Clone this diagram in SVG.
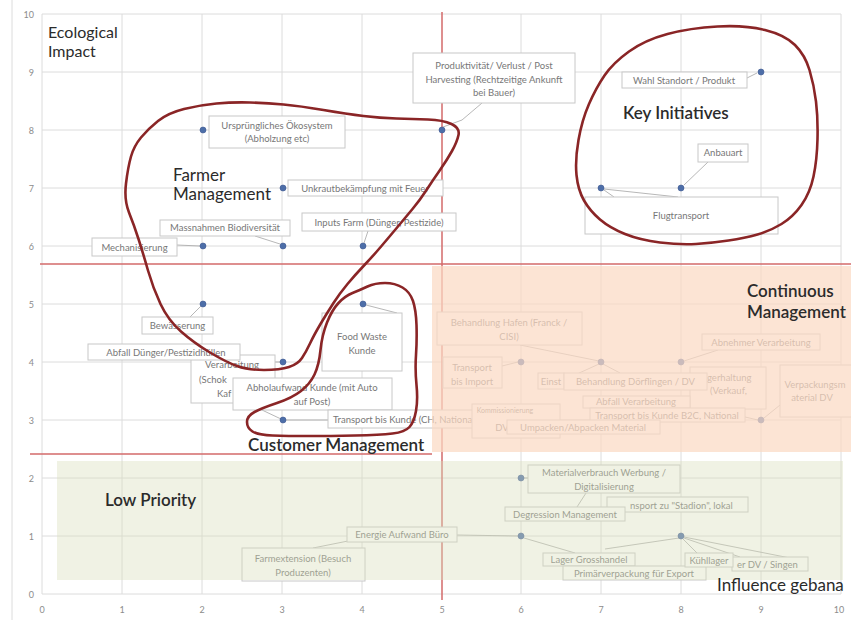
<svg xmlns="http://www.w3.org/2000/svg" width="851" height="620" viewBox="0 0 851 620">
<style>
.grid{stroke:#dcdcdc;stroke-width:1;fill:none}
.tick{font-family:Lato,'Liberation Sans',sans-serif;font-size:9px;fill:#8c8c8c}
.box{fill:#fff;stroke:#c8c8c8;stroke-width:1}
.lbl{font-family:Lato,'Liberation Sans',sans-serif;font-size:9.5px;fill:#777;text-anchor:middle}
.lbs{font-family:Lato,'Liberation Sans',sans-serif;font-size:9.5px;fill:#777}
.lead{stroke:#a4a4a4;stroke-width:0.8;fill:none}
.pt{fill:#4d6ea8;stroke:#3a5590;stroke-width:0.6}
.hand{fill:none;stroke:#8a2526;stroke-width:2.6;stroke-linejoin:round;stroke-linecap:round}
.redl{stroke:#d36a6a;stroke-width:1.5}
.head{font-family:Lato,'Liberation Sans',sans-serif;font-size:17px;fill:#2b2b2b}
.bold{font-weight:600}
</style>
<rect x="0" y="0" width="851" height="620" fill="#fff"/>
<line x1="12" y1="0" x2="12" y2="620" class="grid"/>
<g id="grid">
<line class="grid" x1="42" y1="14" x2="841" y2="14"/>
<line class="grid" x1="42" y1="72" x2="841" y2="72"/>
<line class="grid" x1="42" y1="130" x2="841" y2="130"/>
<line class="grid" x1="42" y1="188" x2="841" y2="188"/>
<line class="grid" x1="42" y1="246" x2="841" y2="246"/>
<line class="grid" x1="42" y1="304" x2="841" y2="304"/>
<line class="grid" x1="42" y1="362" x2="841" y2="362"/>
<line class="grid" x1="42" y1="420" x2="841" y2="420"/>
<line class="grid" x1="42" y1="478" x2="841" y2="478"/>
<line class="grid" x1="42" y1="536" x2="841" y2="536"/>
<line class="grid" x1="42" y1="594" x2="841" y2="594"/>
<line class="grid" x1="42" y1="14" x2="42" y2="594"/>
<line class="grid" x1="122" y1="14" x2="122" y2="594"/>
<line class="grid" x1="202" y1="14" x2="202" y2="594"/>
<line class="grid" x1="282" y1="14" x2="282" y2="594"/>
<line class="grid" x1="362" y1="14" x2="362" y2="594"/>
<line class="grid" x1="521" y1="14" x2="521" y2="594"/>
<line class="grid" x1="601" y1="14" x2="601" y2="594"/>
<line class="grid" x1="681" y1="14" x2="681" y2="594"/>
<line class="grid" x1="761" y1="14" x2="761" y2="594"/>
<line class="grid" x1="841" y1="14" x2="841" y2="594"/>
</g>
<g id="axis-labels" class="tick">
<text x="34" y="18" text-anchor="end">10</text>
<text x="34" y="76" text-anchor="end">9</text>
<text x="34" y="134" text-anchor="end">8</text>
<text x="34" y="192" text-anchor="end">7</text>
<text x="34" y="250" text-anchor="end">6</text>
<text x="34" y="308" text-anchor="end">5</text>
<text x="34" y="366" text-anchor="end">4</text>
<text x="34" y="424" text-anchor="end">3</text>
<text x="34" y="482" text-anchor="end">2</text>
<text x="34" y="540" text-anchor="end">1</text>
<text x="34" y="598" text-anchor="end">0</text>
<g text-anchor="middle">
<text x="42" y="613">0</text>
<text x="122" y="613">1</text>
<text x="202" y="613">2</text>
<text x="282" y="613">3</text>
<text x="362" y="613">4</text>
<text x="442" y="613">5</text>
<text x="521" y="613">6</text>
<text x="601" y="613">7</text>
<text x="681" y="613">8</text>
<text x="761" y="613">9</text>
<text x="839" y="613">10</text>
</g>
</g>
<g id="dividers">
<line class="redl" x1="442" y1="12" x2="442" y2="600"/>
<line class="redl" x1="40" y1="264" x2="851" y2="264"/>
<line class="redl" x1="30" y1="454" x2="432" y2="454"/>
</g>
<g id="connectors" class="lead">
<polyline points="443,127 462,120 482,103"/>
<line x1="747" y1="78" x2="757" y2="73"/>
<line x1="684" y1="185" x2="708" y2="162"/>
<line x1="604" y1="189" x2="678" y2="197"/>
<line x1="604" y1="190" x2="614" y2="197"/>
<line x1="280" y1="244" x2="255" y2="236"/>
<line x1="364" y1="243" x2="368" y2="231"/>
<line x1="200" y1="246" x2="177" y2="245"/>
<line x1="201" y1="306" x2="190" y2="317"/>
<line x1="280" y1="362" x2="275" y2="362"/>
<line x1="262" y1="410" x2="281" y2="419"/>
<line x1="366" y1="305" x2="397" y2="313"/>
<line x1="286" y1="420" x2="328" y2="420"/>
<line x1="520" y1="345" x2="599" y2="361"/>
<line x1="502" y1="366" x2="518" y2="362"/>
<line x1="599" y1="364" x2="577" y2="374"/>
<line x1="603" y1="364" x2="620" y2="373"/>
<line x1="684" y1="361" x2="718" y2="350"/>
<line x1="745" y1="417" x2="758" y2="420"/>
<line x1="764" y1="418" x2="780" y2="405"/>
<line x1="524" y1="478" x2="528" y2="478"/>
<line x1="577" y1="507" x2="586" y2="493"/>
<line x1="457" y1="535" x2="518" y2="536"/>
<line x1="313" y1="548" x2="348" y2="541"/>
<line x1="524" y1="538" x2="575" y2="553"/>
<line x1="679" y1="538" x2="605" y2="549"/>
<line x1="683" y1="539" x2="697" y2="553"/>
<line x1="684" y1="538" x2="740" y2="557"/>
<line x1="684" y1="537" x2="790" y2="558"/>
</g>
<g id="n-ursprung"><rect class="box" x="209" y="116" width="136" height="32"/><text class="lbl" x="277" y="128.5">Ursprüngliches Ökosystem</text><text class="lbl" x="277" y="142">(Abholzung etc)</text><circle class="pt" cx="203" cy="130" r="3"/></g>
<g id="n-produktiv"><rect class="box" x="413" y="53" width="162" height="50"/><text class="lbl" x="494" y="69">Produktivität/ Verlust / Post</text><text class="lbl" x="494" y="82.5">Harvesting (Rechtzeitige Ankunft</text><text class="lbl" x="494" y="96">bei Bauer)</text><circle class="pt" cx="442" cy="130" r="3"/></g>
<g id="n-wahl"><rect class="box" x="622" y="72" width="125" height="16"/><text class="lbl" x="684" y="83.5">Wahl Standort / Produkt</text><circle class="pt" cx="761" cy="72" r="3"/></g>
<g id="n-anbau"><rect class="box" x="698" y="144" width="50" height="18"/><text class="lbl" x="723" y="156">Anbauart</text><circle class="pt" cx="681" cy="188" r="3"/></g>
<g id="n-flug"><rect class="box" x="585" y="197" width="193" height="37"/><text class="lbl" x="681" y="219">Flugtransport</text><circle class="pt" cx="601" cy="188" r="3"/></g>
<g id="n-unkraut"><rect class="box" x="288" y="180" width="155" height="16"/><text class="lbl" x="365" y="191.5">Unkrautbekämpfung mit Feuer</text><circle class="pt" cx="283" cy="188" r="3"/></g>
<g id="n-massnahmen"><rect class="box" x="160" y="220" width="130" height="16"/><text class="lbl" x="225" y="231">Massnahmen Biodiversität</text><circle class="pt" cx="283" cy="246" r="3"/></g>
<g id="n-inputs"><rect class="box" x="302" y="213" width="154" height="18"/><text class="lbl" x="379" y="225.5">Inputs Farm (Dünger, Pestizide)</text><circle class="pt" cx="363" cy="246" r="3"/></g>
<g id="n-mech"><rect class="box" x="92" y="238" width="85" height="18"/><text class="lbl" x="134.5" y="250.5">Mechanisierung</text><circle class="pt" cx="203" cy="246" r="3"/></g>
<g id="n-bewaesserung"><rect class="box" x="142" y="317" width="71" height="17"/><text class="lbl" x="177.5" y="329">Bewässerung</text><circle class="pt" cx="203" cy="304" r="3"/></g>
<g id="n-verarbeitung"><rect class="box" x="191" y="355" width="84" height="48"/><text class="lbl" x="232" y="368">Verarbeitung</text><text class="lbs" x="199" y="382.5">(Schok</text><text class="lbs" x="217" y="396.5">Kaf</text><circle class="pt" cx="283" cy="362" r="3"/></g>
<g id="n-abfall"><rect class="box" x="88" y="344" width="152" height="16"/><text class="lbl" x="166" y="355.5">Abfall Dünger/Pestizidhüllen</text></g>
<g id="n-abholaufwand"><rect class="box" x="233" y="378" width="159" height="32"/><text class="lbl" x="312" y="390.5">Abholaufwand Kunde (mit Auto</text><text class="lbl" x="312" y="405">auf Post)</text><circle class="pt" cx="283" cy="420" r="3"/></g>
<g id="n-foodwaste"><rect class="box" x="322" y="313" width="80" height="58"/><text class="lbl" x="362" y="340">Food Waste</text><text class="lbl" x="362" y="354">Kunde</text><circle class="pt" cx="363" cy="304" r="3"/></g>
<g id="n-transport-ch"><rect class="box" x="328" y="410" width="168" height="18"/><text class="lbs" x="333" y="423">Transport bis Kunde (CH, National</text></g>
<g id="n-hafen"><rect class="box" x="437" y="312" width="145" height="33"/><text class="lbl" x="509" y="326">Behandlung Hafen (Franck /</text><text class="lbl" x="509" y="340">CISI)</text></g>
<g id="n-import"><rect class="box" x="443" y="357" width="59" height="31"/><text class="lbl" x="472" y="370.5">Transport</text><text class="lbl" x="472" y="385">bis Import</text><circle class="pt" cx="521" cy="362" r="3"/></g>
<g id="n-einst"><rect class="box" x="538" y="373" width="26" height="16"/><text class="lbl" x="551" y="384.5">Einst</text></g>
<g id="n-lagerhaltung"><rect class="box" x="690" y="367" width="76" height="42"/><text class="lbs" x="707" y="381">gerhaltung</text><text class="lbs" x="710" y="394">(Verkauf,</text></g>
<g id="n-doerflingen"><rect class="box" x="564" y="373" width="143" height="17"/><text class="lbl" x="635.5" y="384.5">Behandlung Dörflingen / DV</text><circle class="pt" cx="601" cy="362" r="3"/></g>
<g id="n-abfall-verarbeitung"><rect class="box" x="583" y="396" width="107" height="12"/><text class="lbl" x="636" y="405">Abfall Verarbeitung</text></g>
<g id="n-komm"><rect class="box" x="472" y="404" width="88" height="34"/><text class="lbl" x="505" y="413" style="font-size:7px">Kommissionierung</text><text class="lbl" x="502" y="431">DV</text></g>
<g id="n-b2c"><rect class="box" x="590" y="408" width="155" height="14"/><text class="lbl" x="667" y="418.5">Transport bis Kunde B2C, National</text></g>
<g id="n-umpacken"><rect class="box" x="507" y="420" width="153" height="14"/><text class="lbl" x="583" y="430.5">Umpacken/Abpacken Material</text></g>
<g id="n-abnehmer"><rect class="box" x="702" y="334" width="118" height="16"/><text class="lbl" x="761" y="345.5">Abnehmer Verarbeitung</text><circle class="pt" cx="681" cy="362" r="3"/></g>
<g id="n-verpackung"><rect class="box" x="780" y="365" width="75" height="52"/><text class="lbl" x="815" y="388">Verpackungsm</text><text class="lbl" x="812" y="401">aterial DV</text><circle class="pt" cx="761" cy="420" r="3"/></g>
<g id="n-material"><rect class="box" x="528" y="465" width="152" height="28"/><text class="lbl" x="604" y="475.5">Materialverbrauch Werbung /</text><text class="lbl" x="604" y="490">Digitalisierung</text><circle class="pt" cx="521" cy="478" r="3"/></g>
<g id="n-stadion"><rect class="box" x="607" y="497" width="141" height="15"/><text class="lbs" x="630" y="508.5">nsport zu "Stadion", lokal</text></g>
<g id="n-degression"><rect class="box" x="505" y="507" width="120" height="14"/><text class="lbl" x="565" y="517.5">Degression Management</text></g>
<g id="n-energie"><rect class="box" x="347" y="527" width="110" height="15"/><text class="lbl" x="402" y="538">Energie Aufwand Büro</text><circle class="pt" cx="521" cy="536" r="3"/></g>
<g id="n-farmextension"><rect class="box" x="242" y="548" width="123" height="33"/><text class="lbl" x="303" y="562">Farmextension (Besuch</text><text class="lbl" x="303" y="576">Produzenten)</text></g>
<g id="n-lager-gh"><rect class="box" x="543" y="553" width="92" height="13"/><text class="lbl" x="589" y="562.5">Lager Grosshandel</text></g>
<g id="n-primaer"><rect class="box" x="563" y="566" width="143" height="14"/><text class="lbl" x="634" y="576.5">Primärverpackung für Export</text></g>
<g id="n-singen"><rect class="box" x="732" y="557" width="76" height="14"/><text class="lbs" x="737" y="567.5">er DV / Singen</text></g>
<g id="n-kuehllager"><rect class="box" x="685" y="553" width="48" height="14"/><text class="lbl" x="709" y="563.5">Kühllager</text><circle class="pt" cx="681" cy="536" r="3"/></g>
<rect id="zone-continuous" x="432" y="266" width="419" height="186" fill="#fbd9c4" opacity="0.72"/>
<rect id="zone-low" x="57" y="461" width="786" height="119" fill="#d9debb" opacity="0.4"/>
<g id="c-farmer"><path class="hand" d="M126,183.5 Q128,167 131,156.5 Q134,146 141,137.5 Q148,129 158,121 Q168,113 184,109 Q200,105 216.5,103.5 Q233,102 250,102.5 Q267,103 283.5,104.5 Q300,106 323.5,110 Q347,114 363.5,116 Q380,118 396.5,118.5 Q413,119 428,119.5 Q443,120 451.5,124 Q460,128 458.5,135 Q457,142 452,151 Q447,160 440,170 Q433,180 426.5,190 Q420,200 412.5,209 Q405,218 397.5,227 Q390,236 381.5,246 Q373,256 364,265.5 Q355,275 347.5,284 Q340,293 333.5,303 Q327,313 320.5,324 Q314,335 310,343.5 Q306,352 302,358 Q298,364 289,367 Q280,370 264,370 Q248,370 237,366 Q226,362 210,352.5 Q194,343 181,331.5 Q168,320 160.5,304 Q153,288 148,270.5 Q143,253 138.5,239 Q134,225 129,212.5 Q124,200 126,183.5 Z"/></g>
<g id="c-customer"><path class="hand" d="M367.5,286.5 Q375,283 385,283 Q395,283 402.5,287.5 Q410,292 413,301 Q416,310 416.5,325 Q417,340 416,355 Q415,370 416.5,385 Q418,400 416,411 Q414,422 409.5,427 Q405,432 392.5,433.5 Q380,435 355,435.5 Q330,436 308.5,436 Q287,436 272.5,435.5 Q258,435 252.5,431.5 Q247,428 247,422 Q247,416 254.5,412 Q262,408 277,403 Q292,398 301,391 Q310,384 314.5,374.5 Q319,365 320.5,350 Q322,335 327,322.5 Q332,310 338.5,303 Q345,296 352.5,293 Q360,290 367.5,286.5 Z"/></g>
<g id="c-key"><path class="hand" d="M629,51.5 Q645,40 667.5,34 Q690,28 717.5,26.5 Q745,25 765,30 Q785,35 795,45 Q805,55 809.5,70 Q814,85 816,101.5 Q818,118 817.5,139 Q817,160 813.5,176.5 Q810,193 801.5,205 Q793,217 781.5,224 Q770,231 757.5,234.5 Q745,238 728.5,240.5 Q712,243 696,244 Q680,245 660,242.5 Q640,240 625,234 Q610,228 600,219.5 Q590,211 584,200.5 Q578,190 576.5,175 Q575,160 578.5,140 Q582,120 589,104 Q596,88 604.5,75.5 Q613,63 629,51.5 Z"/></g>
<g id="headings" class="head">
<text x="48" y="38" style="font-size:16px">Ecological</text>
<text x="48" y="57" style="font-size:16px">Impact</text>
<text x="173" y="181">Farmer</text>
<text x="173" y="200">Management</text>
<text x="623" y="119" class="bold">Key Initiatives</text>
<text x="747" y="297" class="bold">Continuous</text>
<text x="747" y="318" class="bold">Management</text>
<text x="248" y="451" class="bold">Customer Management</text>
<text x="105" y="506" class="bold">Low Priority</text>
<text x="717" y="591">Influence gebana</text>
</g>
</svg>
